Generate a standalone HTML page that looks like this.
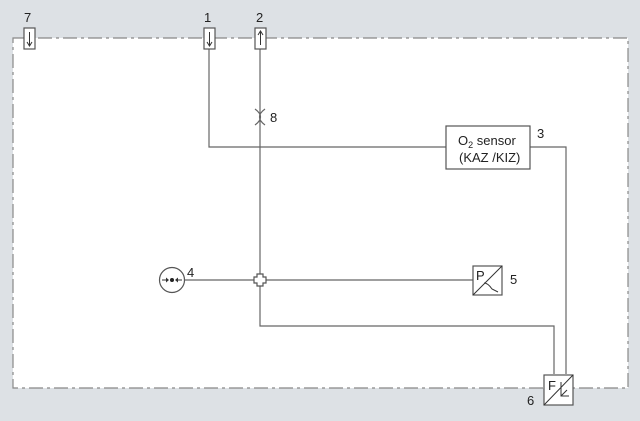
<!DOCTYPE html>
<html><head><style>body{margin:0;background:#dde1e5}svg{display:block}text{font-family:"Liberation Sans",sans-serif;font-size:13px;fill:#222}</style></head><body>
<svg width="640" height="421" viewBox="0 0 640 421">
<rect width="640" height="421" fill="#dde1e5"/>
<rect x="13" y="38" width="615" height="350" fill="#fff" stroke="#888" stroke-width="1.2" stroke-dasharray="14,4,3,4"/>
<g stroke="#666" stroke-width="1.2" fill="none">
<path d="M209 49V147H446"/>
<path d="M260 49V326H554V374"/>
<path d="M530 147H566V374"/>
<path d="M185 280H473"/>
<path d="M255 109Q266 117 255 125M265 109Q254 117 265 125"/>
</g>
<g stroke="#555" stroke-width="1.2" fill="#fff">
<rect x="24" y="28" width="11" height="21"/>
<rect x="204" y="28" width="11" height="21"/>
<rect x="255" y="28" width="11" height="21"/>
<rect x="446" y="126" width="84" height="43"/>
<circle cx="172" cy="280" r="12.5"/>
<path d="M257 274h6v3h3v6h-3v3h-6v-3h-3v-6h3z"/>
<rect x="473" y="266" width="29" height="29"/>
<rect x="544" y="375" width="29" height="30"/>
</g>
<g stroke="#333" stroke-width="1" fill="none">
<path d="M29.5 32V45M27 42l2.5 4 2.5-4"/>
<path d="M209.5 32V45M207 42l2.5 4 2.5-4"/>
<path d="M260.5 32V45M258 35l2.5-4 2.5 4"/>
<path d="M473 295L502 266M484 283q4 0 8 6l6 3"/>
<path d="M544 405L573 375M561 382V396h8M561 396l6-6"/>
<path d="M162 280h6M182 280h-6"/>
</g>
<path d="M169 280l-3-2.5v5zM175 280l3-2.5v5z" fill="#333"/>
<circle cx="172" cy="280" r="2" fill="#222"/>
<text x="24" y="22">7</text><text x="204" y="22">1</text><text x="256" y="22">2</text>
<text x="270" y="122">8</text><text x="537" y="138">3</text>
<text x="187" y="277">4</text><text x="510" y="284">5</text><text x="527" y="405">6</text>
<text x="476" y="280" font-size="12">P</text><text x="548" y="390" font-size="12">F</text>
<text x="458" y="145">O<tspan font-size="9" dy="3">2</tspan><tspan dy="-3"> sensor</tspan></text>
<text x="459" y="162">(KAZ /KIZ)</text>
</svg>
</body></html>
